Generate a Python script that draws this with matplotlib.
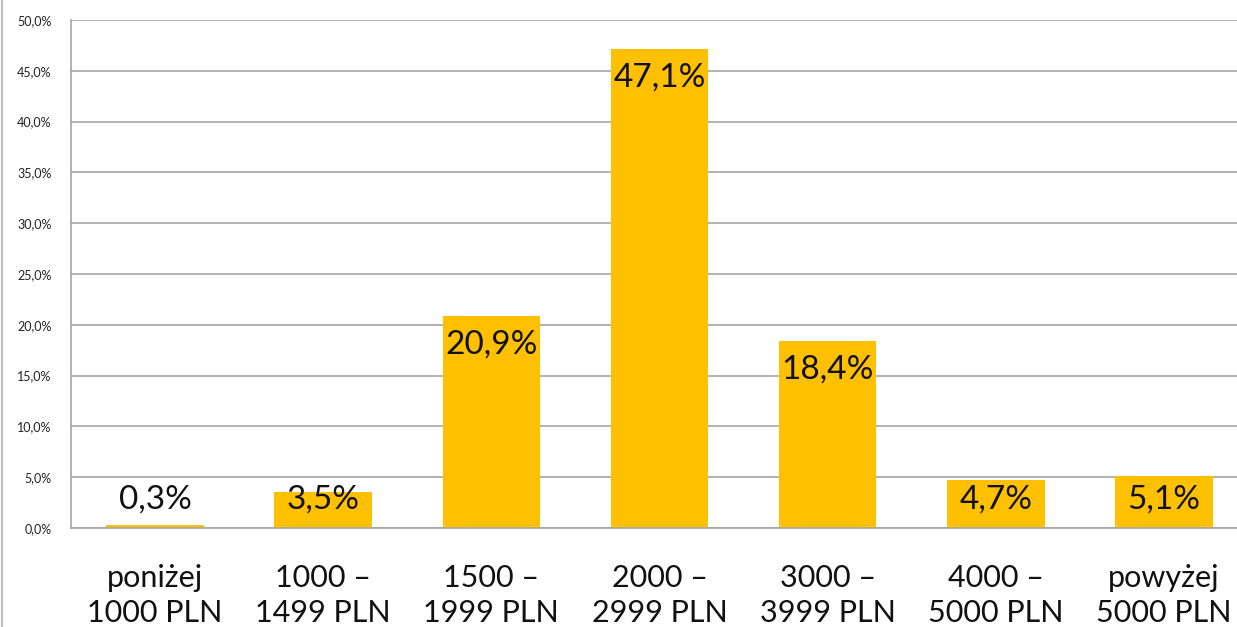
import matplotlib.pyplot as plt
from matplotlib.ticker import FuncFormatter

categories = ["poniżej\n1000 PLN", "1000 –\n1499 PLN", "1500 –\n1999 PLN",
              "2000 –\n2999 PLN", "3000 –\n3999 PLN", "4000 –\n5000 PLN",
              "powyżej\n5000 PLN"]
values = [0.3, 3.5, 20.9, 47.1, 18.4, 4.7, 5.1]
y_ticks = [0, 5, 10, 15, 20, 25, 30, 35, 40, 45, 50]

plt.rcParams['font.family'] = ['Lato', 'DejaVu Sans']

fig = plt.figure(figsize=(12.37, 6.27), dpi=100)
W, H = 1237, 627
# plot area runs a bit past the right edge of the picture
ax = fig.add_axes([71 / W, 1 - 528 / H, (1248 - 71) / W, (528 - 20) / H])

x = range(len(values))
ax.bar(x, values, width=0.58, color="#FFC000", zorder=2)

for i, v in enumerate(values):
    ax.text(i, max(v - 2.8, 2.8), f"{v:.1f}%".replace(".", ","),
            ha="center", va="center", fontsize=24, color="#111111", zorder=3)

ax.set_xlim(-0.5, len(values) - 0.5)
ax.set_ylim(0, 50)
ax.set_yticks(y_ticks)
ax.yaxis.set_major_formatter(FuncFormatter(lambda v, p: f"{v:.1f}%".replace(".", ",")))
ax.tick_params(axis="y", length=0, pad=14, labelsize=9, labelcolor="#222222")
ax.grid(axis="y", color="#A6A6A6", linewidth=1.2, zorder=1)

ax.set_xticks(list(x))
ax.set_xticklabels(categories, fontsize=22, color="#111111", linespacing=1.3)
ax.tick_params(axis="x", length=0, pad=26)

for s in ["top", "right"]:
    ax.spines[s].set_visible(False)
for s in ["left", "bottom"]:
    ax.spines[s].set_color("#A6A6A6")
    ax.spines[s].set_linewidth(1.2)

fig.add_artist(plt.Line2D([1.5 / W, 1.5 / W], [0, 1], color="#BFBFBF", linewidth=1.5))

fig.savefig("out.png", dpi=100)
